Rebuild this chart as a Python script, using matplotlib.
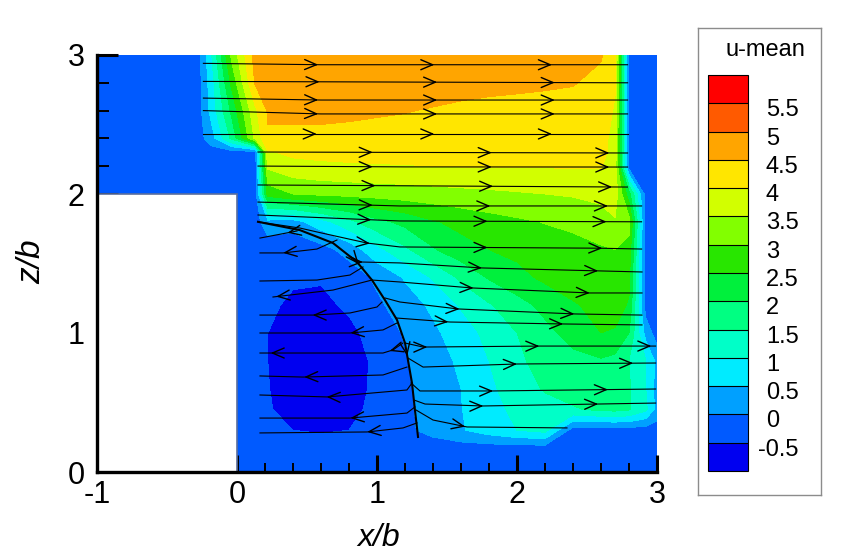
import numpy as np
import matplotlib
matplotlib.use("Agg")
import matplotlib.pyplot as plt
from matplotlib.patches import Rectangle
from matplotlib import transforms

# ---------------- data ----------------
B = -0.25  # background value (outside measured zone)

x_nodes = [-1.0, -0.28, -0.18, -0.04, 0.13, 0.22, 0.4, 0.6, 0.8, 1.0, 1.2,
           1.4, 1.6, 1.8, 2.0, 2.2, 2.4, 2.6, 2.7, 2.8, 2.92, 3.0]
z_nodes = [0.0, 0.17, 0.3, 0.45, 0.6, 0.8, 1.0, 1.2, 1.4, 1.6, 1.8, 2.0,
           2.2, 2.3, 2.4, 2.6, 2.8, 3.0]

u_z000 = [B, B, B, B, B, B, B, B, B, B, B, B, B, B, B, B, B, B, B, B, B, B]
u_z017 = [B, B, B, B, B, B, B, B, B, B, B, B, B, B, B, B, B, B, B, B, B, B]
u_z030 = [B, B, B, B, B, -0.35, -0.5, -0.55, -0.5, -0.3, -0.1, 0.15, 0.45, 0.75, 1.0, 1.15, B, B, B, B, B, B]
u_z045 = [B, B, B, B, B, -0.45, -0.7, -0.75, -0.65, -0.35, -0.1, 0.2, 0.48, 0.85, 1.1, 1.3, 1.45, 1.6, 1.65, 1.55, 1.1, 0.3]
u_z060 = [B, B, B, B, B, -0.48, -0.75, -0.8, -0.7, -0.4, -0.12, 0.3, 0.5, 0.9, 1.25, 1.55, 1.7, 1.8, 1.8, 1.55, 1.0, 0.3]
u_z080 = [B, B, B, B, B, -0.5, -0.8, -0.85, -0.72, -0.4, -0.05, 0.3, 0.58, 1.0, 1.4, 1.7, 1.85, 1.95, 1.85, 1.5, 1.0, 0.35]
u_z100 = [B, B, B, B, B, -0.5, -0.8, -0.8, -0.62, -0.3, 0.05, 0.4, 0.75, 1.15, 1.5, 1.85, 2.2, 2.5, 2.45, 2.0, 0.3, B]
u_z120 = [B, B, B, B, B, -0.4, -0.6, -0.62, -0.42, -0.1, 0.25, 0.6, 1.05, 1.45, 1.8, 2.15, 2.45, 2.65, 2.7, 2.45, B, B]
u_z140 = [B, B, B, B, B, -0.3, -0.42, -0.45, -0.3, 0.1, 0.55, 1.05, 1.6, 2.05, 2.35, 2.6, 2.75, 2.85, 2.85, 2.6, B, B]
u_z160 = [B, B, B, B, B, -0.35, -0.45, -0.2, 0.2, 0.85, 1.4, 1.95, 2.3, 2.5, 2.62, 2.75, 2.85, 2.95, 3.0, 2.8, B, B]
u_z180 = [B, B, B, B, B, 0.35, 0.3, 0.8, 1.35, 1.85, 2.15, 2.45, 2.65, 2.8, 2.92, 3.02, 3.1, 3.25, 3.45, 3.2, B, B]
u_z200 = [B, B, B, B, B, 2.7, 3.0, 3.1, 3.15, 3.2, 3.25, 3.3, 3.35, 3.4, 3.45, 3.5, 3.55, 3.65, 3.8, 2.2, B, B]
u_z220 = [B, B, B, B, B, 3.6, 3.85, 3.92, 3.95, 3.97, 3.98, 4.0, 4.02, 4.02, 4.03, 4.03, 4.04, 4.03, 3.75, B, B, B]
u_z230 = [B, B, B, B, B, 3.95, 4.1, 4.12, 4.13, 4.13, 4.14, 4.14, 4.15, 4.15, 4.15, 4.15, 4.15, 4.12, 3.85, B, B, B]
u_z240 = [B, B, 0.3, 1.6, 3.6, 4.45, 4.4, 4.4, 4.38, 4.35, 4.33, 4.3, 4.28, 4.25, 4.25, 4.22, 4.2, 4.15, 3.85, B, B, B]
u_z260 = [B, B, 0.7, 2.1, 3.9, 4.55, 4.6, 4.6, 4.58, 4.55, 4.52, 4.47, 4.42, 4.38, 4.35, 4.3, 4.3, 4.25, 3.95, B, B, B]
u_z280 = [B, B, 0.8, 2.6, 4.55, 4.7, 4.75, 4.75, 4.75, 4.75, 4.7, 4.7, 4.65, 4.62, 4.6, 4.58, 4.53, 4.35, 4.05, B, B, B]
u_z300 = [B, B, 1.0, 3.1, 4.7, 4.75, 4.8, 4.8, 4.8, 4.8, 4.8, 4.8, 4.8, 4.8, 4.8, 4.75, 4.7, 4.55, 4.15, B, B, B]

levels = [-1.0, -0.5, 0.0, 0.5, 1.0, 1.5, 2.0, 2.5, 3.0, 3.5, 4.0, 4.5, 5.0, 5.5, 6.0]
level_labels = [-0.5, 0, 0.5, 1, 1.5, 2, 2.5, 3, 3.5, 4, 4.5, 5, 5.5]

# streamlines flowing in +x (listed in flow direction)
right_x = [
    [-0.24, 0.6, 2.79],
    [-0.24, 2.79],
    [-0.24, 0.6, 2.79],
    [-0.24, 0.6, 2.79],
    [-0.24, 2.79],
    [0.15, 2.79],
    [0.15, 1.2, 2.79],
    [0.15, 2.79],
    [0.15, 1.16, 2.89],
    [0.15, 1.16, 2.89],
    [0.15, 0.45, 0.571, 0.929, 1.164, 2.59, 2.89],
    [0.8, 0.879, 1.164, 1.75, 2.893],
    [0.964, 1.164, 1.679, 2.52, 2.893],
    [1.057, 1.164, 1.579, 2.414, 2.893],
    [1.136, 1.521, 2.329, 2.893],
    [1.2, 1.329, 2.164, 2.99],
    [1.221, 1.329, 2.0, 2.99],
    [1.243, 1.307, 1.829, 2.99],
    [1.264, 1.343, 1.757, 2.99],
    [1.279, 1.4, 1.643, 2.357],
]
right_z = [
    [2.94, 2.93, 2.93],
    [2.81, 2.80],
    [2.69, 2.676, 2.676],
    [2.60, 2.576, 2.576],
    [2.432, 2.432],
    [2.302, 2.295],
    [2.201, 2.195, 2.194],
    [2.065, 2.05],
    [1.942, 1.914, 1.914],
    [1.849, 1.806, 1.80],
    [1.80, 1.755, 1.727, 1.647, 1.619, 1.61, 1.604],
    [1.556, 1.511, 1.504, 1.468, 1.439],
    [1.381, 1.367, 1.324, 1.288, 1.288],
    [1.252, 1.223, 1.173, 1.137, 1.129],
    [1.108, 1.079, 1.065, 1.058],
    [0.928, 0.899, 0.906, 0.906],
    [0.82, 0.755, 0.777, 0.784],
    [0.64, 0.583, 0.583, 0.597],
    [0.518, 0.489, 0.475, 0.496],
    [0.446, 0.374, 0.324, 0.317],
]
right_arrows = [
    [0.58, 1.41, 2.25],
    [0.59, 1.43, 2.27],
    [0.58, 1.43, 2.27],
    [0.58, 1.43, 2.27],
    [0.57, 1.41, 2.25],
    [0.97, 1.82, 2.66],
    [0.97, 1.82, 2.66],
    [0.99, 1.83, 2.68],
    [0.97, 1.81, 2.65],
    [0.96, 1.79, 2.64],
    [0.95, 1.79, 2.61],
    [0.9, 1.75, 2.58],
    [1.69, 2.52],
    [1.59, 2.41],
    [1.51, 2.33],
    [1.36, 2.16, 2.96],
    [2.0, 2.83],
    [1.83, 2.65],
    [1.76, 2.58],
    [1.63],
]

# recirculating streamlines flowing in -x (listed in flow direction)
left_x = [
    [0.429, 0.164],
    [0.714, 0.571, 0.329, 0.164],
    [0.9, 0.807, 0.571, 0.164],
    [0.964, 0.686, 0.257],
    [1.036, 1.0, 0.807, 0.543, 0.164],
    [1.143, 1.043, 0.807, 0.164],
    [1.186, 1.114, 1.043, 0.164],
    [1.214, 1.043, 0.471, 0.164],
    [1.25, 1.214, 0.643, 0.164],
    [1.271, 1.214, 0.807, 0.164],
    [1.286, 1.186, 0.929, 0.164],
]
left_z = [
    [1.734, 1.683],
    [1.669, 1.604, 1.576, 1.576],
    [1.475, 1.417, 1.381, 1.374],
    [1.381, 1.309, 1.259],
    [1.223, 1.187, 1.144, 1.129, 1.129],
    [1.072, 1.022, 1.0, 1.0],
    [0.928, 0.878, 0.856, 0.856],
    [0.755, 0.698, 0.683, 0.691],
    [0.64, 0.59, 0.54, 0.554],
    [0.468, 0.424, 0.388, 0.388],
    [0.353, 0.317, 0.288, 0.281],
]
left_arrows = [[0.36], [0.33], [], [0.28], [0.54], [0.81], [1.09, 0.24],
               [0.48], [0.64], [0.81], [0.93]]

# dividing streamline
sep_x = [0.15, 0.45, 0.686, 0.857, 0.964, 1.057, 1.143, 1.2, 1.221, 1.25, 1.271, 1.293]
sep_z = [1.80, 1.74, 1.647, 1.511, 1.381, 1.237, 1.094, 0.928, 0.806, 0.64, 0.446, 0.252]
sep_arrows = [0.87, 1.216]

# ---------------- style ----------------
band_colors = ['#0000f0', '#005aff', '#00a0ff', '#00ebff', '#00ffc8', '#00ff82',
               '#00f03c', '#28e600', '#82ff00', '#d2ff00', '#ffe600', '#ffa500',
               '#ff5a00', '#ff0000']
axis_font = ['Liberation Sans Narrow', 'Liberation Sans', 'DejaVu Sans']
legend_font = ['Liberation Sans', 'DejaVu Sans']

u_mean = np.array([u_z000, u_z017, u_z030, u_z045, u_z060, u_z080, u_z100,
                   u_z120, u_z140, u_z160, u_z180, u_z200, u_z220, u_z230,
                   u_z240, u_z260, u_z280, u_z300])

fig = plt.figure(figsize=(8.5, 5.6), dpi=100)
ax = fig.add_axes([97 / 850, 88 / 560, 560 / 850, 417 / 560])

cs = ax.contourf(x_nodes, z_nodes, u_mean, levels=levels, colors=band_colors,
                 zorder=1)

# building block
ax.add_patch(Rectangle((-1, 0), 1, 2, facecolor='white', edgecolor='#5a6e9e',
                       lw=1.2, zorder=3))


def draw_arrows(xs, zs, arrow_xs):
    for xa in arrow_xs:
        for i in range(len(xs) - 1):
            x0, x1 = xs[i], xs[i + 1]
            if x0 != x1 and min(x0, x1) <= xa <= max(x0, x1):
                t = (xa - x0) / (x1 - x0)
                za = zs[i] + t * (zs[i + 1] - zs[i])
                dx, dz = x1 - x0, zs[i + 1] - zs[i]
                n = np.hypot(dx, dz)
                ax.annotate('', xy=(xa, za),
                            xytext=(xa - 0.03 * dx / n, za - 0.03 * dz / n),
                            arrowprops=dict(arrowstyle='->,head_length=0.85,head_width=0.36',
                                            lw=1.0, color='black', shrinkA=0,
                                            shrinkB=0, mutation_scale=10),
                            zorder=5)
                break


for xs, zs, arr in zip(right_x, right_z, right_arrows):
    ax.plot(xs, zs, color='black', lw=0.8, zorder=4)
    draw_arrows(xs, zs, arr)
for xs, zs, arr in zip(left_x, left_z, left_arrows):
    ax.plot(xs, zs, color='black', lw=0.8, zorder=4)
    draw_arrows(xs, zs, arr)
ax.plot(sep_x, sep_z, color='black', lw=1.5, zorder=4)
draw_arrows(sep_x, sep_z, sep_arrows)

ax.set_xlim(-1, 3)
ax.set_ylim(0, 3)
for s in ['top', 'right']:
    ax.spines[s].set_visible(False)
for s in ['left', 'bottom']:
    ax.spines[s].set_linewidth(2.4)
    ax.spines[s].set_zorder(6)

ax.set_xticks([-1, 0, 1, 2, 3])
ax.set_yticks([0, 1, 2, 3])
ax.set_xticks([0.2, 0.4, 0.6, 0.8, 1.2, 1.4, 1.6, 1.8, 2.2, 2.4, 2.6, 2.8], minor=True)
ax.set_yticks([2.2, 2.4, 2.6, 2.8], minor=True)
ax.set_xticklabels(['-1', '0', '1', '2', '3'], family=axis_font, fontsize=22)
ax.set_yticklabels(['0', '1', '2', '3'], family=axis_font, fontsize=22)
ax.tick_params(axis='x', which='major', direction='in', length=12, width=2.2, pad=6)
ax.tick_params(axis='x', which='minor', direction='in', length=6.5, width=1.4)
ax.tick_params(axis='y', which='major', direction='in', length=15, width=2.2, pad=9)
ax.tick_params(axis='y', which='minor', direction='in', length=8.5, width=1.4)
ax.xaxis.get_major_ticks()[0].tick1line.set_visible(False)
for t in ax.yaxis.get_major_ticks()[:2]:
    t.tick1line.set_visible(False)

ax.set_xlabel('x/b', family=axis_font, fontsize=23, style='italic', va='center')
ax.xaxis.set_label_coords(0.502, -0.158)
ax.set_ylabel('z/b', family=axis_font, fontsize=24, style='italic', va='center')
ax.yaxis.set_label_coords(-0.116, 0.504)

# legend box
lax = fig.add_axes([698 / 850, 65 / 560, 123 / 850, 467 / 560])
lax.set_xticks([])
lax.set_yticks([])
for s in lax.spines.values():
    s.set_edgecolor('#8c8c8c')
    s.set_linewidth(1.0)

cax = fig.add_axes([708 / 850, 89 / 560, 40 / 850, 396 / 560])
cb = fig.colorbar(cs, cax=cax, drawedges=True)
cb.outline.set_linewidth(0.8)
cb.dividers.set_linewidth(0.8)
cb.set_ticks([])

trans = transforms.offset_copy(
    transforms.blended_transform_factory(cax.transAxes, cax.transData),
    fig=fig, x=0, y=-5, units='points')
for lev in level_labels:
    xpos = 1.25 if lev < 0 else 1.45
    cax.text(xpos, lev, f'{lev:g}', transform=trans, ha='left', va='center',
             fontsize=17, family=legend_font)

fig.text(765 / 850, 1 - 50 / 560, 'u-mean', ha='center', va='center',
         fontsize=17, family=legend_font)

fig.savefig('out.png', dpi=100)
